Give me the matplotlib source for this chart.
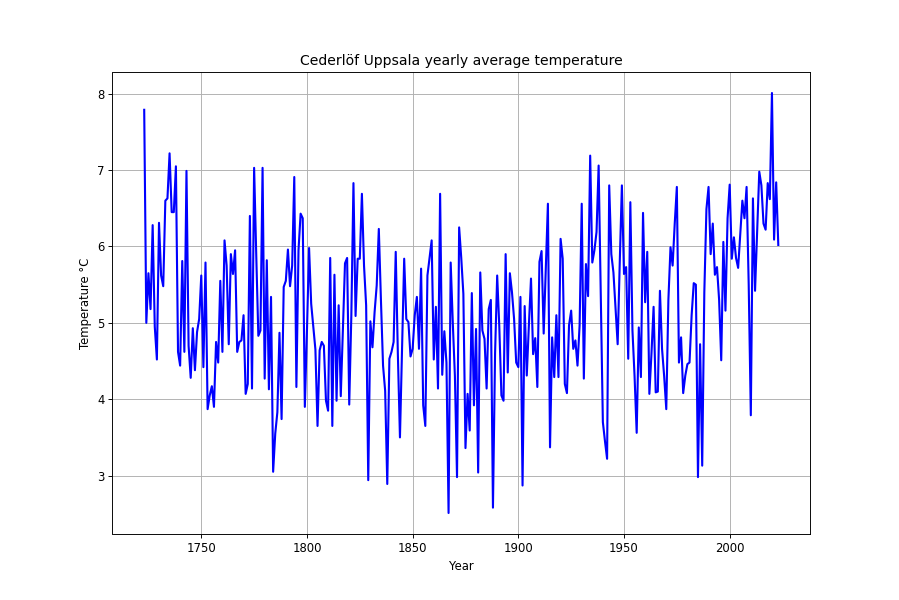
import numpy as np
import matplotlib
matplotlib.use('Agg')
import matplotlib.pyplot as plt

# yearly mean temperature, one row per ten years
first_year = 1723
temps = [
    7.79, 5.00, 5.65, 5.18, 6.28, 4.95, 4.52, 6.31, 5.62, 5.48,
    6.60, 6.63, 7.22, 6.45, 6.45, 7.05, 4.62, 4.44, 5.81, 4.62,
    6.99, 4.70, 4.28, 4.93, 4.38, 4.88, 5.05, 5.62, 4.42, 5.79,
    3.87, 4.05, 4.17, 3.90, 4.75, 4.48, 5.55, 4.62, 6.08, 5.75,
    4.72, 5.90, 5.64, 5.95, 4.62, 4.75, 4.77, 5.10, 4.07, 4.20,
    6.40, 4.14, 7.03, 5.90, 4.83, 4.90, 7.03, 4.27, 5.82, 4.13,
    5.34, 3.05, 3.55, 3.83, 4.87, 3.74, 5.47, 5.55, 5.96, 5.48,
    5.75, 6.91, 4.16, 5.95, 6.43, 6.37, 3.90, 4.90, 5.98, 5.25,
    4.95, 4.65, 3.65, 4.64, 4.75, 4.70, 3.98, 3.85, 5.85, 3.65,
    5.63, 3.98, 5.23, 4.04, 4.90, 5.78, 5.85, 3.93, 5.10, 6.83,
    5.09, 5.84, 5.84, 6.69, 5.75, 5.23, 2.94, 5.02, 4.68, 5.14,
    5.49, 6.23, 5.30, 4.44, 4.11, 2.89, 4.53, 4.62, 4.75, 5.93,
    4.60, 3.50, 4.70, 5.84, 5.05, 5.01, 4.56, 4.66, 5.10, 5.34,
    4.66, 5.71, 3.92, 3.65, 5.62, 5.85, 6.08, 4.52, 5.21, 4.14,
    6.69, 4.32, 4.89, 4.48, 2.51, 5.79, 5.00, 4.30, 2.98, 6.25,
    5.85, 5.38, 3.36, 4.07, 3.59, 5.39, 3.92, 4.92, 3.04, 5.66,
    4.90, 4.79, 4.14, 5.18, 5.30, 2.58, 4.60, 5.62, 4.95, 4.05,
    3.98, 5.90, 4.35, 5.65, 5.40, 5.05, 4.48, 4.42, 5.34, 2.87,
    5.22, 4.31, 4.97, 5.58, 4.59, 4.80, 4.16, 5.80, 5.94, 4.86,
    5.70, 6.56, 3.37, 4.81, 4.29, 5.10, 4.29, 6.10, 5.84, 4.20,
    4.08, 4.97, 5.16, 4.66, 4.77, 4.44, 4.97, 6.56, 4.27, 5.77,
    5.35, 7.19, 5.79, 5.95, 6.19, 7.06, 5.40, 3.70, 3.45, 3.22,
    6.80, 5.90, 5.66, 5.20, 4.72, 5.80, 6.80, 5.64, 5.73, 4.53,
    6.58, 4.90, 4.30, 3.56, 4.94, 4.29, 6.44, 5.27, 5.93, 4.07,
    4.60, 5.21, 4.09, 4.10, 5.42, 4.66, 4.30, 3.87, 5.30, 5.99,
    5.75, 6.30, 6.78, 4.48, 4.81, 4.08, 4.31, 4.46, 4.48, 5.10,
    5.52, 5.50, 2.98, 4.72, 3.13, 5.40, 6.49, 6.78, 5.90, 6.30,
    5.63, 5.73, 5.30, 4.51, 6.06, 5.16, 6.37, 6.81, 5.84, 6.12,
    5.85, 5.72, 6.15, 6.60, 6.37, 6.78, 5.50, 3.79, 6.63, 5.42,
    6.20, 6.98, 6.80, 6.30, 6.22, 6.83, 6.62, 8.01, 6.09, 6.84,
    6.02,
]
years = np.arange(first_year, first_year + len(temps))

# the reference looks like a bigger figure drawn at a lower dpi
dpi = 84
fig = plt.figure(figsize=(900 / dpi, 600 / dpi), dpi=dpi)
ax = fig.add_subplot(111)
ax.plot(years, temps, color='b', linewidth=1.8)
ax.grid(True)
ax.set_title('Cederlöf Uppsala yearly average temperature')
ax.set_xlabel('Year')
ax.set_ylabel('Temperature °C')
fig.savefig('out.png', dpi=dpi)
